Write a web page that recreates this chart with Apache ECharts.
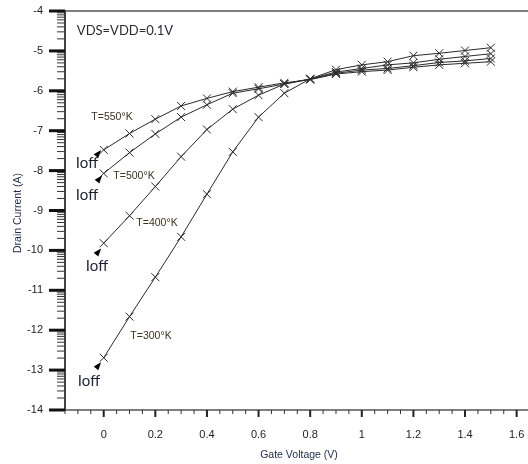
<!DOCTYPE html>
<html><head><meta charset="utf-8">
<script src="https://cdn.jsdelivr.net/npm/echarts@6/dist/echarts.min.js"></script>
<style>html,body{margin:0;padding:0;background:#fff}#c{width:528px;height:464px}</style>
</head><body><div id="c"></div>
<script>
const gateVoltage = [0,0.1,0.2,0.3,0.4,0.5,0.6,0.7,0.8,0.9,1.0,1.1,1.2,1.3,1.4,1.5];
const T300 = [-12.69,-11.66,-10.67,-9.66,-8.59,-7.53,-6.66,-6.06,-5.70,-5.47,-5.35,-5.27,-5.12,-5.06,-4.99,-4.92];
const T400 = [-9.82,-9.13,-8.40,-7.65,-6.97,-6.46,-6.11,-5.83,-5.70,-5.53,-5.44,-5.35,-5.30,-5.21,-5.14,-5.07];
const T500 = [-8.07,-7.55,-7.08,-6.66,-6.35,-6.06,-5.95,-5.83,-5.71,-5.56,-5.48,-5.44,-5.37,-5.29,-5.25,-5.19];
const T550 = [-7.48,-7.07,-6.71,-6.38,-6.19,-6.02,-5.91,-5.80,-5.72,-5.58,-5.52,-5.48,-5.41,-5.35,-5.31,-5.27];
const xTickLabels = [0,0.2,0.4,0.6,0.8,1,1.2,1.4,1.6];
const yTickLabels = [-14,-13,-12,-11,-10,-9,-8,-7,-6,-5,-4];
const seriesNames = ['T=300°K','T=400°K','T=500°K','T=550°K'];
// Ioff arrow heads (data coordinates: gate voltage, log current)
const ioffArrows = [[-0.02,-12.88],[-0.02,-10.03],[-0.016,-8.2],[-0.02,-7.56]];

const XMIN = -0.15, XMAX = 1.644, YMIN = -14, YMAX = -4;
const xMinor = [];
for (let i = -3; i <= 32; i++) { if (i % 4 !== 0) xMinor.push(+(i*0.05).toFixed(2)); }
const yMinor = [];
for (let d = -14; d < -4; d++) { for (let k = 2; k <= 9; k++) yMinor.push(d + Math.log10(k)); }

// tick descriptors: [kind, value]  kind 0 = x major, 1 = x minor, 2 = y major, 3 = y minor, 4 = top frame
const tickData = []
  .concat(xTickLabels.map(v => [0, v]))
  .concat(xMinor.map(v => [1, v]))
  .concat(yTickLabels.map(v => [2, v]))
  .concat(yMinor.map(v => [3, v]))
  .concat([[4, YMAX]]);

const allSeries = [T300, T400, T500, T550];
const chart = echarts.init(document.getElementById('c'), null, {renderer:'canvas'});
const txtFont = 'Liberation Sans, Arial, sans-serif';
const mkSeries = allSeries.map((arr, i) => ({
  name: seriesNames[i], type: 'line',
  data: gateVoltage.map((v, j) => [v, arr[j]]),
  symbol: 'path://M0,0L10,10M10,0L0,10', symbolSize: 8,
  lineStyle: {color: '#2a2a2a', width: 1},
  itemStyle: {color: 'none', borderColor: '#2a2a2a', borderWidth: 1},
  emphasis: {disabled: true},
  silent: true, animation: false, z: 3,
  markPoint: {
    silent: true, animation: false,
    symbol: 'triangle', symbolSize: [6, 8], symbolRotate: -40,
    itemStyle: {color: '#000'}, label: {show: false},
    data: [{coord: ioffArrows[i]}]
  }
}));

const tickSeries = {
  type: 'custom', name: 'ticks', silent: true, animation: false, clip: false, z: 4,
  encode: {x: -1, y: -1},
  data: tickData,
  renderItem: function (params, api) {
    const kind = api.value(0), v = api.value(1);
    if (kind === 0 || kind === 1) {
      const p = api.coord([v, YMIN]);
      const len = kind === 0 ? 7 : 4;
      return {type: 'line', shape: {x1: p[0], y1: p[1], x2: p[0], y2: p[1] + len},
              style: {stroke: kind === 0 ? '#222' : '#333', lineWidth: kind === 0 ? 2 : 1}};
    }
    if (kind === 2 || kind === 3) {
      const p = api.coord([XMIN, v]);
      const len = kind === 2 ? 16 : 8;
      return {type: 'line', shape: {x1: p[0] - len, y1: p[1], x2: p[0], y2: p[1]},
              style: {stroke: kind === 2 ? '#111' : '#333', lineWidth: kind === 2 ? 3 : 1}};
    }
    const a = api.coord([XMIN, v]), b = api.coord([XMAX, v]);
    return {type: 'line', shape: {x1: a[0], y1: a[1], x2: b[0], y2: b[1]},
            style: {stroke: '#555', lineWidth: 1.5}};
  }
};

chart.setOption({
  animation: false,
  grid: {left: 65, right: 0, top: 11, bottom: 54},
  xAxis: {type: 'value', position: 'bottom', min: XMIN, max: XMAX,
     axisLine: {show: true, onZero: false, lineStyle: {color: '#555', width: 1.5}},
     axisTick: {show: false},
     axisLabel: {customValues: xTickLabels, margin: 19, color: '#222', fontSize: 11, fontFamily: txtFont},
     splitLine: {show: false}},
  yAxis: {type: 'value', position: 'left', min: YMIN, max: YMAX, interval: 1,
     axisLine: {show: true, onZero: false, lineStyle: {color: '#444', width: 2}},
     axisTick: {show: false},
     axisLabel: {margin: 22, color: '#222', fontSize: 11, fontFamily: txtFont},
     splitLine: {show: false}},
  series: mkSeries.concat([tickSeries]),
  graphic: [
    {type: 'text', x: 299, y: 455, style: {text: 'Gate Voltage (V)', font: '10.5px "Liberation Sans", Arial', fill: '#1f2a4a', textAlign: 'center', textVerticalAlign: 'middle'}},
    {type: 'text', x: 18, y: 213, rotation: Math.PI / 2, style: {text: 'Drain Current (A)', font: '10.5px "Liberation Sans", Arial', fill: '#1f2a4a', textAlign: 'center', textVerticalAlign: 'middle'}},
    {type: 'text', x: 125, y: 31, style: {text: 'VDS=VDD=0.1V', font: '13px Lato, "Open Sans", sans-serif', fill: '#2b2b33', textAlign: 'center', textVerticalAlign: 'middle'}},
    {type: 'text', x: 112, y: 117, style: {text: 'T=550°K', font: '10.5px "Liberation Sans", Arial', fill: '#3a3322', textAlign: 'center', textVerticalAlign: 'middle'}},
    {type: 'text', x: 134, y: 176, style: {text: 'T=500°K', font: '10.5px "Liberation Sans", Arial', fill: '#3a3322', textAlign: 'center', textVerticalAlign: 'middle'}},
    {type: 'text', x: 157, y: 223, style: {text: 'T=400°K', font: '10.5px "Liberation Sans", Arial', fill: '#3a3322', textAlign: 'center', textVerticalAlign: 'middle'}},
    {type: 'text', x: 151, y: 336, style: {text: 'T=300°K', font: '10.5px "Liberation Sans", Arial', fill: '#3a3322', textAlign: 'center', textVerticalAlign: 'middle'}},
    {type: 'text', x: 87, y: 163, style: {text: 'Ioff', font: '15px Lato, "Open Sans", sans-serif', fill: '#1e2233', textAlign: 'center', textVerticalAlign: 'middle'}},
    {type: 'text', x: 87, y: 195, style: {text: 'Ioff', font: '15px Lato, "Open Sans", sans-serif', fill: '#1e2233', textAlign: 'center', textVerticalAlign: 'middle'}},
    {type: 'text', x: 97, y: 266, style: {text: 'Ioff', font: '15px Lato, "Open Sans", sans-serif', fill: '#1e2233', textAlign: 'center', textVerticalAlign: 'middle'}},
    {type: 'text', x: 89, y: 381, style: {text: 'Ioff', font: '15px Lato, "Open Sans", sans-serif', fill: '#1e2233', textAlign: 'center', textVerticalAlign: 'middle'}}
  ]
});
</script></body></html>
